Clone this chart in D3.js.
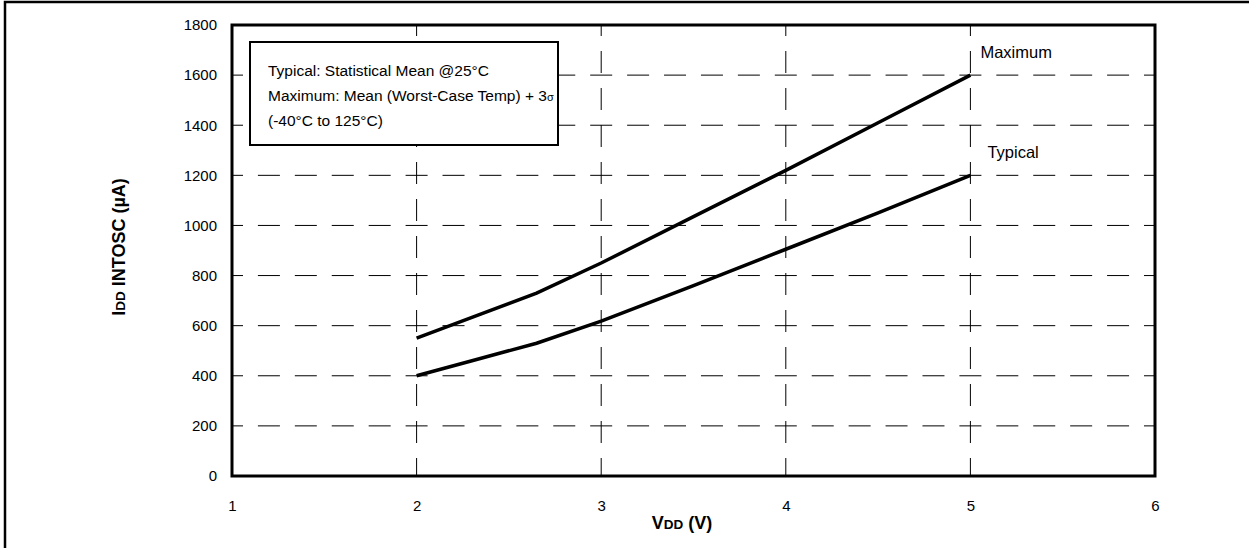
<!DOCTYPE html>
<html>
<head>
<meta charset="utf-8">
<script src="https://cdn.jsdelivr.net/npm/d3@7"></script>
<style>
  body { margin: 0; background: #fff; }
  svg { display: block; font-family: "Liberation Sans", Arial, sans-serif; }
</style>
</head>
<body>
<script>
const vdd = [2, 2.3, 2.65, 3, 3.5, 4, 4.5, 5];
const maximum = [550, 633, 730, 850, 1035, 1220, 1410, 1600];
const typical = [400, 460, 530, 618, 760, 905, 1050, 1200];
const xTicks = [1, 2, 3, 4, 5, 6];
const yTicks = [0, 200, 400, 600, 800, 1000, 1200, 1400, 1600, 1800];
const noteLines = ["Typical: Statistical Mean @25°C", "Maximum: Mean (Worst-Case Temp) + 3", "(-40°C to 125°C)"];

const W = 1249, H = 548;
const margin = { top: 25, bottom: 72, left: 232, right: 94 };
const width = W - margin.left - margin.right;
const height = H - margin.top - margin.bottom;

const svg = d3.select("body").append("svg").attr("width", W).attr("height", H);

// outer frame (cut off at right/bottom)
svg.append("rect")
  .attr("x", 5).attr("y", 2).attr("width", 1400).attr("height", 700)
  .attr("fill", "none").attr("stroke", "#000").attr("stroke-width", 2.5);

const g = svg.append("g").attr("transform", `translate(${margin.left},${margin.top})`);

const x = d3.scaleLinear().domain([1, 6]).range([0, width]);
const y = d3.scaleLinear().domain([0, 1800]).range([height, 0]);

const xStep = x(2) - x(1);

// grid
g.append("g").selectAll("line").data(yTicks.slice(1, -1)).join("line")
  .attr("x1", 0).attr("x2", width)
  .attr("y1", (d) => y(d)).attr("y2", (d) => y(d))
  .attr("stroke", "#000").attr("stroke-width", 1)
  .attr("stroke-dasharray", `22,${xStep / 5 - 22}`)
  .attr("stroke-dashoffset", 11);

g.append("g").selectAll("line").data(xTicks.slice(1, -1)).join("line")
  .attr("x1", (d) => x(d)).attr("x2", (d) => x(d))
  .attr("y1", 0).attr("y2", height)
  .attr("stroke", "#000").attr("stroke-width", 1)
  .attr("stroke-dasharray", "22,15")
  .attr("stroke-dashoffset", 11);

// axes
const xaxis = d3.axisBottom(x).tickValues(xTicks).tickSize(0).tickPadding(24).tickFormat(d3.format("d"));
const yaxis = d3.axisLeft(y).tickValues(yTicks).tickSize(0).tickPadding(15).tickFormat(d3.format("d"));

g.append("g").attr("transform", `translate(0,${height})`).call(xaxis)
  .call((s) => s.select(".domain").remove())
  .selectAll("text").attr("font-size", 15).attr("fill", "#000").attr("font-family", "Liberation Sans, Arial, sans-serif");
g.append("g").call(yaxis)
  .call((s) => s.select(".domain").remove())
  .selectAll("text").attr("font-size", 15).attr("fill", "#000").attr("font-family", "Liberation Sans, Arial, sans-serif");

g.append("rect")
  .attr("width", width).attr("height", height)
  .attr("fill", "none").attr("stroke", "#000").attr("stroke-width", 3);

// curves
const line = d3.line().x((d) => x(d[0])).y((d) => y(d[1]));
[maximum, typical].forEach((vals) => {
  g.append("path")
    .datum(vdd.map((v, i) => [v, vals[i]]))
    .attr("d", line)
    .attr("fill", "none").attr("stroke", "#000").attr("stroke-width", 3.5);
});

g.append("text").attr("x", x(5) + 10).attr("y", y(1600) - 17).attr("font-size", 16.5).text("Maximum");
g.append("text").attr("x", x(5) + 17).attr("y", y(1200) - 17).attr("font-size", 16.5).text("Typical");

// note box
const note = g.append("g").attr("transform", "translate(18,17)");
note.append("rect").attr("width", 308).attr("height", 103)
  .attr("fill", "#fff").attr("stroke", "#000").attr("stroke-width", 2);
noteLines.forEach((t, i) => {
  const nt = note.append("text").attr("font-size", 15.5).attr("x", 18).attr("y", 34 + i * 25);
  nt.append("tspan").text(t);
  if (i === 1) nt.append("tspan").attr("font-size", 11).text("σ");
});

// axis titles
const xt = svg.append("text")
  .attr("x", 682).attr("y", 529).attr("text-anchor", "middle")
  .attr("font-size", 18).attr("font-weight", "bold");
xt.append("tspan").text("V");
xt.append("tspan").attr("font-size", 13.5).text("DD");
xt.append("tspan").text(" (V)");

const yt = svg.append("text")
  .attr("transform", "translate(125,247) rotate(-90)").attr("text-anchor", "middle")
  .attr("font-size", 18).attr("font-weight", "bold");
yt.append("tspan").text("I");
yt.append("tspan").attr("font-size", 13.5).text("DD");
yt.append("tspan").text(" INTOSC (µA)");
</script>
</body>
</html>
